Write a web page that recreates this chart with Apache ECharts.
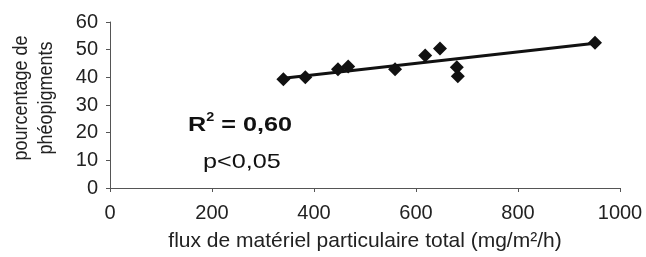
<!DOCTYPE html>
<html>
<head>
<meta charset="utf-8">
<script src="https://cdn.jsdelivr.net/npm/echarts@6/dist/echarts.min.js"></script>
<style>
  html, body { margin: 0; padding: 0; background: #fff; }
  #chart { width: 646px; height: 257px; }
</style>
</head>
<body>
<div id="chart"></div>
<script>
// flux (mg/m²/h) vs pourcentage de phéopigments
const fluxValues = [340, 383, 447, 467, 559, 618, 647, 680, 682, 951];
const pheoValues = [39.3, 40.0, 42.9, 43.9, 42.9, 47.9, 50.4, 43.6, 40.4, 52.5];
const trendX = [340, 951];
const trendY = [39.7, 52.3];
const xTicks = [0, 200, 400, 600, 800, 1000];
const yTicks = [0, 10, 20, 30, 40, 50, 60];

const chart = echarts.init(document.getElementById("chart"));

const font = "Liberation Sans, Arial, sans-serif";

const option = {
  animation: false,
  grid: { left: 110, right: 26, top: 22, bottom: 67 },
  xAxis: {
    type: "value",
    min: xTicks[0],
    max: xTicks[xTicks.length - 1],
    interval: 200,
    name: "flux de matériel particulaire total (mg/m²/h)",
    nameLocation: "middle",
    nameGap: 43,
    nameTextStyle: { fontFamily: font, fontSize: 21, color: "#222" },
    axisLine: { lineStyle: { color: "#555", width: 1 } },
    axisTick: { show: true, length: 4, lineStyle: { color: "#555" } },
    axisLabel: {
      fontFamily: font, fontSize: 20, color: "#222", margin: 15,
      formatter: (v) => String(v),
    },
    splitLine: { show: false },
  },
  yAxis: {
    type: "value",
    min: yTicks[0],
    max: yTicks[yTicks.length - 1],
    interval: 10,
    axisLine: { show: true, lineStyle: { color: "#555", width: 1 } },
    axisTick: { show: true, length: 4, lineStyle: { color: "#555" } },
    axisLabel: { fontFamily: font, fontSize: 20, color: "#222", margin: 12 },
    splitLine: { show: false },
  },
  graphic: [
    {
      type: "text",
      x: 34,
      y: 98,
      rotation: Math.PI / 2,
      scaleY: 1.15,
      style: {
        text: "pourcentage de\nphéopigments",
        font: "18px " + font,
        fill: "#222",
        align: "center",
        verticalAlign: "middle",
        lineHeight: 22,
      },
    },
    {
      type: "text",
      x: 188,
      y: 112,
      scaleX: 1.2,
      style: {
        text: "{b|R}{s|2}{b| = 0,60}",
        rich: {
          b: { font: "bold 21px " + font, fill: "#111", verticalAlign: "bottom" },
          s: { font: "bold 12px " + font, fill: "#111", verticalAlign: "top", padding: [0, 0, 12, 0] },
        },
      },
    },
    {
      type: "text",
      x: 203,
      y: 152,
      scaleX: 1.2,
      style: { text: "p<0,05", font: "21px " + font, fill: "#111" },
    },
  ],
  series: [
    {
      type: "line",
      data: trendX.map((x, i) => [x, trendY[i]]),
      symbol: "none",
      lineStyle: { color: "#111", width: 3 },
      z: 2,
    },
    {
      type: "scatter",
      data: fluxValues.map((x, i) => [x, pheoValues[i]]),
      symbol: "diamond",
      symbolSize: [14, 14],
      itemStyle: { color: "#111", opacity: 1 },
      z: 3,
    },
  ],
};
chart.setOption(option);
</script>
</body>
</html>
